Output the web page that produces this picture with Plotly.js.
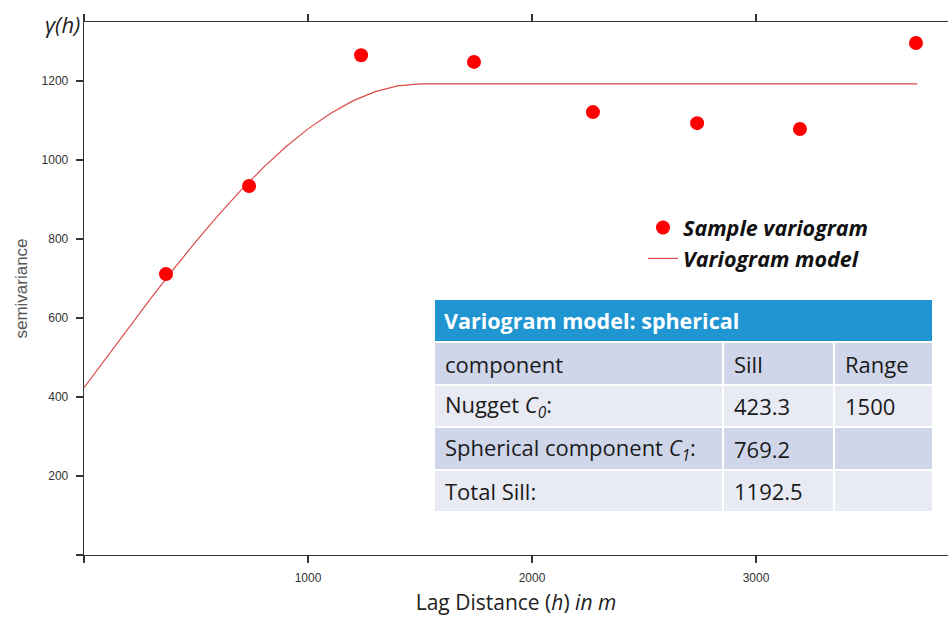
<!DOCTYPE html>
<html>
<head>
<meta charset="utf-8">
<script src="https://cdn.plot.ly/plotly-3.0.1.min.js"></script>
<style>
  html, body { margin: 0; padding: 0; background: #ffffff; }
  #chart { width: 948px; height: 619px; }
</style>
</head>
<body>
<div id="chart"></div>
<script>
// ---- Sample variogram ----
const lagDistance = [366, 737, 1237, 1741, 2272, 2737, 3196, 3714];
const semivariance = [711, 934, 1265, 1248, 1121, 1093, 1078, 1296];

// ---- Fitted variogram model (spherical) ----
const modelLag = [0, 100, 200, 300, 400, 500, 600, 700, 800, 900, 1000, 1100, 1200, 1300, 1400, 1500, 3720];
const modelGamma = [423.3, 500.1, 576.2, 651.0, 723.7, 793.7, 860.2, 922.7, 980.3, 1032.5, 1078.5, 1117.7, 1149.4, 1172.9, 1187.5, 1192.5, 1192.5];

// ---- Tick labels ----
const xTickVals = [0, 1000, 2000, 3000];
const xTickText = ['', '1000', '2000', '3000'];
const yTickVals = [0, 200, 400, 600, 800, 1000, 1200];
const yTickText = ['', '200', '400', '600', '800', '1000', '1200'];

// ---- Parameter table ----
const tableTitle = 'Variogram model: spherical';
const tableColumns = ['component', 'Sill', 'Range'];
const tableComponents = ['Nugget <i>C<sub>0</sub></i>:', 'Spherical component <i>C<sub>1</sub></i>:', 'Total Sill:'];
const tableSill = ['423.3', '769.2', '1192.5'];
const tableRange = ['1500', '', ''];

// ---- Layout geometry (pixels) ----
const W = 948, H = 619;
const M = { l: 84, r: 0, t: 22, b: 64 };
const PW = W - M.l - M.r, PH = H - M.t - M.b;
const px = x => (x - M.l) / PW;
const py = y => (H - M.b - y) / PH;

const shapes = [];
const annotations = [];
const FONT = '"Open Sans", Lato, sans-serif';
const TICKFONT = 'Arial, "Liberation Sans", sans-serif';

// table geometry
const colX = [434, 723, 834, 933];
const headerY = [299, 342];
const rowY = [[342, 385], [385, 427], [427, 470], [470, 512]];
const dark = '#cfd6ea', light = '#e8ebf4';

function rect(x0, x1, y0, y1, fill) {
  shapes.push({ type: 'rect', xref: 'paper', yref: 'paper',
    x0: px(x0), x1: px(x1), y0: py(y1), y1: py(y0),
    fillcolor: fill, line: { color: '#ffffff', width: 2 }, layer: 'above' });
}
function cellText(text, x, y0, y1, opts) {
  annotations.push(Object.assign({ xref: 'paper', yref: 'paper', x: px(x), y: py((y0 + y1) / 2),
    text: text, showarrow: false, xanchor: 'left', yanchor: 'middle',
    font: { family: FONT, size: 22, color: '#1a1a1a' } }, opts || {}));
}

rect(colX[0], colX[3], headerY[0], headerY[1], '#1f95d2');
cellText('<b>' + tableTitle + '</b>', colX[0] + 8, headerY[0], headerY[1],
  { font: { family: FONT, size: 21.5, color: '#ffffff' } });

const rows = [tableColumns].concat(tableComponents.map((c, i) => [c, tableSill[i], tableRange[i]]));
rows.forEach((r, i) => {
  const fill = i % 2 === 0 ? dark : light;
  for (let c = 0; c < 3; c++) {
    rect(colX[c], colX[c + 1], rowY[i][0], rowY[i][1], fill);
    if (r[c] !== '') cellText(r[c], colX[c] + 9, rowY[i][0], rowY[i][1]);
  }
});

// gamma(h) label
annotations.push({ xref: 'paper', yref: 'paper', x: px(62), y: py(24), showarrow: false,
  xanchor: 'center', yanchor: 'middle', text: '<i>γ(h)</i>',
  font: { family: FONT, size: 22, color: '#222222' } });

const traces = [
  { x: modelLag, y: modelGamma, type: 'scatter', mode: 'lines', name: 'Variogram model',
    line: { color: '#dc4a4a', width: 1.2 }, legendrank: 2 },
  { x: lagDistance, y: semivariance, type: 'scatter', mode: 'markers', name: 'Sample variogram',
    marker: { color: '#ff0000', size: 14 }, legendrank: 1 }
];

const axisCommon = {
  showline: true, linecolor: '#333333', linewidth: 1.3,
  ticks: 'outside', ticklen: 7, tickwidth: 1.3, tickcolor: '#333333',
  showgrid: false, zeroline: false,
  tickfont: { family: TICKFONT, size: 12, color: '#333333' }
};

const layout = {
  width: W, height: H,
  margin: M,
  paper_bgcolor: '#ffffff', plot_bgcolor: '#ffffff',
  showlegend: true,
  legend: { x: px(643), y: py(207), xanchor: 'left', yanchor: 'top', bgcolor: 'rgba(0,0,0,0)',
    font: { family: FONT, size: 21.5, color: '#111111', style: 'italic', weight: 'bold' } },
  xaxis: Object.assign({}, axisCommon, {
    range: [0, 3857], tickmode: 'array', tickvals: xTickVals, ticktext: xTickText,
    mirror: 'ticks', ticklabelstandoff: 4,
    title: { text: 'Lag Distance (<i>h</i>) <i>in m</i>', standoff: 11,
      font: { family: FONT, size: 21, color: '#222222' } }
  }),
  yaxis: Object.assign({}, axisCommon, {
    range: [0, 1349], tickmode: 'array', tickvals: yTickVals, ticktext: yTickText,
    ticklabelstandoff: 5,
    title: { text: 'semivariance', standoff: 9,
      font: { family: TICKFONT, size: 17, color: '#555555' } }
  }),
  shapes: shapes,
  annotations: annotations
};

Plotly.newPlot('chart', traces, layout, { staticPlot: true, displayModeBar: false });
</script>
</body>
</html>
